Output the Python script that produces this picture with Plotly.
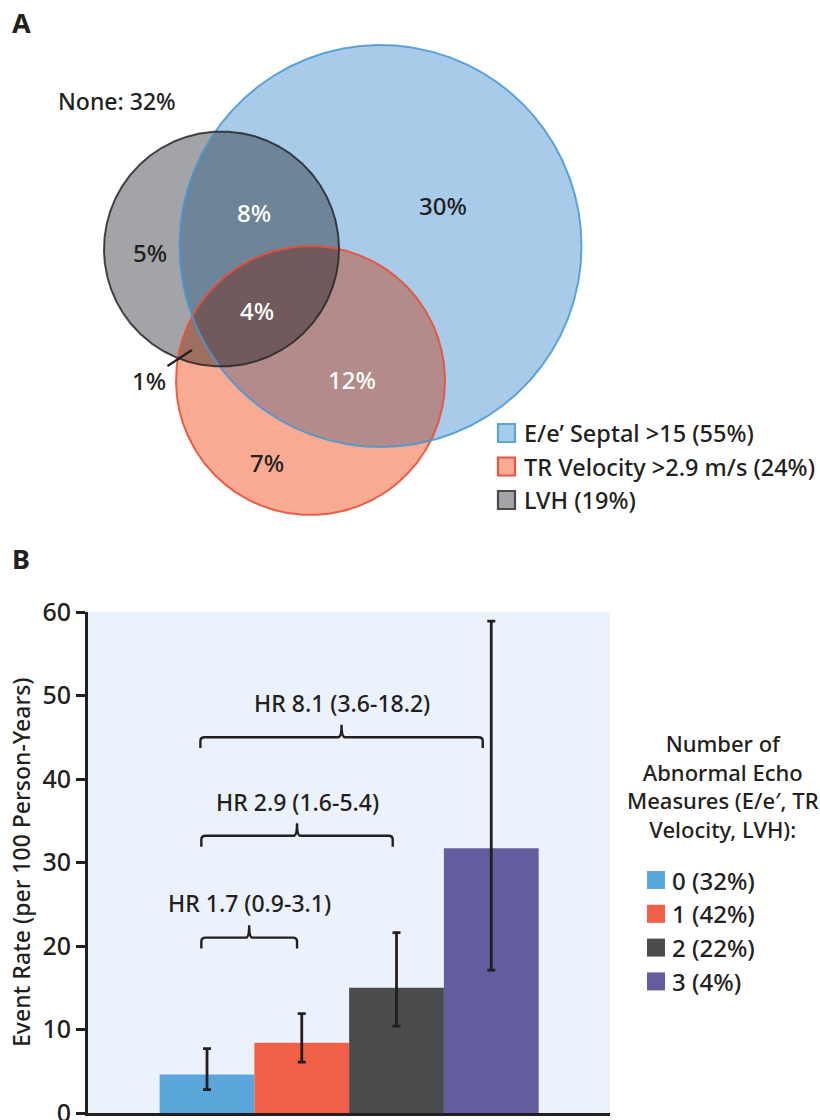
import numpy as np
import plotly.graph_objects as go

# ---------------- Data ----------------
# Panel B: event rates by number of abnormal echo measures
group_x = [0, 1, 2, 3]
group_labels = ["0 (32%)", "1 (42%)", "2 (22%)", "3 (4%)"]
event_rate = [4.6, 8.4, 15.0, 31.7]
ci_low = [2.8, 6.1, 10.4, 17.1]
ci_high = [7.7, 11.9, 21.6, 58.9]
y_ticks = [0, 10, 20, 30, 40, 50, 60]

hr_labels = ["HR 1.7 (0.9-3.1)", "HR 2.9 (1.6-5.4)", "HR 8.1 (3.6-18.2)"]
hr_left = [-0.06, -0.06, -0.07]
hr_right = [0.95, 1.96, 2.91]
hr_y = [21.0, 33.2, 45.0]

# Panel A: Venn labels
venn_values = ["30%", "8%", "5%", "4%", "12%", "7%", "1%"]
none_label = "None: 32%"
venn_legend = ["E/e\u2019 Septal >15 (55%)", "TR Velocity >2.9 m/s (24%)", "LVH (19%)"]
legend_b_title = ["Number of", "Abnormal Echo", "Measures (E/e\u2032, TR", "Velocity, LVH):"]

# ---------------- Styles ----------------
W, H = 820, 1120
FONT = "Noto Sans"
WT = 500
TXT = "#231F20"
bar_colors = ["#5BA7DB", "#F05F46", "#4A4B4D", "#635C9E"]

# Venn geometry (pixel space of panel A)
BLUE = (380.5, 246.0, 201.0)
RED = (310.5, 380.5, 134.5)
GRAY = (221.5, 249.0, 117.5)


def P(px, py):
    return px / W, 1 - py / H


def F(size, color=TXT):
    return dict(family=FONT, size=size, color=color, weight=WT)


def circle_pts(c, n=1440):
    t = np.linspace(0, 2 * np.pi, n, endpoint=False)
    return np.c_[c[0] + c[2] * np.cos(t), c[1] + c[2] * np.sin(t)]


def region(circles):
    pts = []
    for i, c in enumerate(circles):
        p = circle_pts(c)
        mask = np.ones(len(p), bool)
        for j, d in enumerate(circles):
            if j != i:
                mask &= (p[:, 0] - d[0]) ** 2 + (p[:, 1] - d[1]) ** 2 <= d[2] ** 2
        pts.append(p[mask])
    pts = np.vstack(pts)
    cen = pts.mean(axis=0)
    ang = np.arctan2(pts[:, 1] - cen[1], pts[:, 0] - cen[0])
    pts = pts[np.argsort(ang)]
    return np.vstack([pts, pts[:1]])


fig = go.Figure()

# ---------------- Panel A: Venn ----------------
fills = [
    ([BLUE], "#A9CBEA"),
    ([RED], "#F8AB92"),
    ([RED, BLUE], "#B38B8B"),
    ([GRAY], "#A2A4A8"),
    ([GRAY, BLUE], "#6E8499"),
    ([GRAY, RED], "#9E6F61"),
    ([GRAY, RED, BLUE], "#725A5C"),
]
for circs, col in fills:
    pts = region(circs)
    fig.add_trace(go.Scatter(x=pts[:, 0], y=pts[:, 1], mode="lines", fill="toself",
                             fillcolor=col, line=dict(width=0), hoverinfo="skip",
                             showlegend=False, xaxis="x2", yaxis="y2"))

for c, col in [(RED, "rgba(232,80,58,0.9)"), (BLUE, "rgba(70,150,210,0.85)"),
               (GRAY, "rgba(40,40,40,0.85)")]:
    pts = circle_pts(c)
    pts = np.vstack([pts, pts[:1]])
    fig.add_trace(go.Scatter(x=pts[:, 0], y=pts[:, 1], mode="lines",
                             line=dict(width=2, color=col), hoverinfo="skip",
                             showlegend=False, xaxis="x2", yaxis="y2"))

# leader line for 1%
fig.add_trace(go.Scatter(x=[167.5, 192], y=[366, 350], mode="lines",
                         line=dict(width=2.2, color=TXT), hoverinfo="skip",
                         showlegend=False, xaxis="x2", yaxis="y2"))

venn_pos = [(443, 205, TXT), (254, 212, "white"), (150, 253, TXT), (257, 310, "white"),
            (352, 379, "white"), (267, 462, TXT), (149, 380, TXT)]
annotations = []
for lab, (px, py, col) in zip(venn_values, venn_pos):
    x, y = P(px, py)
    annotations.append(dict(x=x, y=y, xref="paper", yref="paper", text=lab,
                            showarrow=False, xanchor="center", yanchor="middle",
                            font=F(24, col)))
x, y = P(56, 101)
annotations.append(dict(x=x, y=y, xref="paper", yref="paper", text=none_label,
                        showarrow=False, xanchor="left", yanchor="middle", font=F(23)))

shapes = []
leg_a_style = [("#A9CBEA", "#5AA5DA"), ("#F8AB92", "#E8563F"), ("#A2A4A8", "#4A4A4A")]
for i, (lab, (fc, lc)) in enumerate(zip(venn_legend, leg_a_style)):
    cy = 433 + i * 33.5
    x0, y0 = P(498, cy - 9)
    x1, y1 = P(515, cy + 9)
    shapes.append(dict(type="rect", xref="paper", yref="paper", x0=x0, x1=x1, y0=y0, y1=y1,
                       fillcolor=fc, line=dict(color=lc, width=2.2)))
    x, y = P(522, cy)
    annotations.append(dict(x=x, y=y, xref="paper", yref="paper", text=lab,
                            showarrow=False, xanchor="left", yanchor="middle", font=F(23.5)))

# Panel labels
for lab, py in [("A", 22), ("B", 558)]:
    x, y = P(10, py)
    annotations.append(dict(x=x, y=y, xref="paper", yref="paper", text="<b>%s</b>" % lab,
                            showarrow=False, xanchor="left", yanchor="middle",
                            font=dict(family=FONT, size=27, color=TXT, weight=700)))

# ---------------- Panel B: bars ----------------
fig.add_trace(go.Bar(
    x=group_x, y=event_rate, width=1.0,
    marker=dict(color=bar_colors, line=dict(width=0)),
    error_y=dict(type="data", symmetric=False,
                 array=[h - v for h, v in zip(ci_high, event_rate)],
                 arrayminus=[v - l for l, v in zip(ci_low, event_rate)],
                 color=TXT, thickness=2.8, width=4),
    showlegend=False, hoverinfo="skip", xaxis="x", yaxis="y"))

# plot background for panel B
shapes.append(dict(type="rect", xref="x domain", yref="y domain", x0=0, x1=1, y0=0, y1=1,
                   fillcolor="#EBF2FB", line=dict(width=0), layer="below"))

# HR brackets
tip = 1.3
spike = 1.5
rx, ry = 0.045, 0.45
for lab, xl, xr, yb in zip(hr_labels, hr_left, hr_right, hr_y):
    xc = (xl + xr) / 2
    path = (f"M {xl},{yb - tip} L {xl},{yb - ry} Q {xl},{yb} {xl + rx},{yb} "
            f"L {xc - 0.035},{yb} Q {xc},{yb} {xc},{yb + spike} "
            f"Q {xc},{yb} {xc + 0.035},{yb} L {xr - rx},{yb} "
            f"Q {xr},{yb} {xr},{yb - ry} L {xr},{yb - tip}")
    shapes.append(dict(type="path", xref="x", yref="y", path=path,
                       line=dict(color=TXT, width=2.4)))
    annotations.append(dict(x=xc, y=yb + 4.1, xref="x", yref="y", text=lab,
                            showarrow=False, xanchor="center", yanchor="middle", font=F(23)))

# y-axis title
x, y = P(21, 862)
annotations.append(dict(x=x, y=y, xref="paper", yref="paper",
                        text="Event Rate (per 100 Person-Years)", textangle=-90,
                        showarrow=False, xanchor="center", yanchor="middle", font=F(23)))

# Panel B legend
x, y = P(723, 786)
annotations.append(dict(x=x, y=y, xref="paper", yref="paper", text="<br>".join(legend_b_title),
                        showarrow=False, xanchor="center", yanchor="middle", align="center",
                        font=F(22)))
for i, (lab, col) in enumerate(zip(group_labels, bar_colors)):
    cy = 880 + i * 33.8
    x0, y0 = P(647, cy - 9)
    x1, y1 = P(665, cy + 9)
    shapes.append(dict(type="rect", xref="paper", yref="paper", x0=x0, x1=x1, y0=y0, y1=y1,
                       fillcolor=col, line=dict(width=0)))
    x, y = P(670, cy)
    annotations.append(dict(x=x, y=y, xref="paper", yref="paper", text=lab,
                            showarrow=False, xanchor="left", yanchor="middle", font=F(24)))

fig.update_layout(
    template="none",
    width=W, height=H, margin=dict(l=0, r=0, t=0, b=0, autoexpand=False),
    paper_bgcolor="white", plot_bgcolor="rgba(0,0,0,0)",
    font=dict(family=FONT, color=TXT),
    xaxis=dict(domain=[88 / W, 610 / W], range=[-1.256, 4.253], showline=True,
               linewidth=3, linecolor=TXT, showticklabels=False, ticks="",
               showgrid=False, zeroline=False, fixedrange=True, automargin=False),
    yaxis=dict(domain=[1 - 1113 / H, 1 - 612 / H], range=[0, 60], tickvals=y_ticks,
               showline=True, linewidth=3, linecolor=TXT, ticks="outside", ticklen=9,
               tickwidth=2.5, tickcolor=TXT, showgrid=False, zeroline=False,
               tickfont=F(25), fixedrange=True, automargin=False,
               ticklabeloverflow="allow"),
    xaxis2=dict(domain=[0, 1], range=[0, W], visible=False, fixedrange=True, automargin=False),
    yaxis2=dict(domain=[1 - 540 / H, 1], range=[540, 0], visible=False, fixedrange=True,
                automargin=False),
    shapes=shapes, annotations=annotations,
)

post = ("document.body.style.margin='0';document.body.style.padding='0';"
        "document.body.style.overflow='hidden';"
        "var d=document.getElementById('{plot_id}');"
        "d.style.position='absolute';d.style.left='0px';d.style.top='0px';")
fig.write_html("out.html", post_script=post, config={"displayModeBar": False})
